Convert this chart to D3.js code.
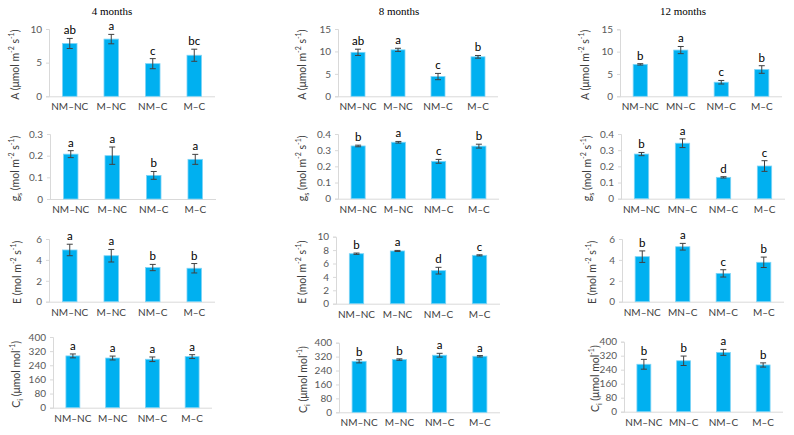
<!DOCTYPE html>
<html><head><meta charset="utf-8">
<script src="https://cdn.jsdelivr.net/npm/d3@7"></script>
<style>
html,body{margin:0;padding:0;background:#fff;}
svg{display:block;}
</style></head>
<body>
<svg id="chart" width="794" height="435"></svg>
<script>
// ---------- data ----------
const months = ["4 months", "8 months", "12 months"];
const categories = ["NM–NC", "M–NC", "NM–C", "M–C"];
const categories12 = ["NM–NC", "MN–C", "NM–C", "M–C"];

// Net photosynthesis A
const A_4 = [7.85, 8.5, 4.85, 6.1];
const A_4_err = [0.75, 0.7, 0.75, 0.9];
const A_4_sig = ["ab", "a", "c", "bc"];
const A_8 = [9.8, 10.35, 4.4, 8.8];
const A_8_err = [0.7, 0.35, 0.7, 0.3];
const A_8_sig = ["ab", "a", "c", "b"];
const A_12 = [7.15, 10.35, 3.15, 6.0];
const A_12_err = [0.15, 0.8, 0.4, 0.85];
const A_12_sig = ["b", "a", "c", "b"];

// Stomatal conductance gs
const gs_4 = [0.207, 0.2, 0.109, 0.183];
const gs_4_err = [0.016, 0.04, 0.018, 0.023];
const gs_4_sig = ["a", "a", "b", "a"];
const gs_8 = [0.326, 0.349, 0.231, 0.325];
const gs_8_err = [0.005, 0.005, 0.012, 0.012];
const gs_8_sig = ["b", "a", "c", "b"];
const gs_12 = [0.276, 0.343, 0.132, 0.202];
const gs_12_err = [0.01, 0.027, 0.004, 0.033];
const gs_12_sig = ["b", "a", "d", "c"];

// Transpiration E
const E_4 = [4.95, 4.4, 3.27, 3.2];
const E_4_err = [0.55, 0.6, 0.3, 0.45];
const E_4_sig = ["a", "a", "b", "b"];
const E_8 = [7.46, 7.87, 4.93, 7.22];
const E_8_err = [0.1, 0.08, 0.5, 0.08];
const E_8_sig = ["b", "a", "d", "c"];
const E_12 = [4.31, 5.26, 2.71, 3.77];
const E_12_err = [0.55, 0.32, 0.35, 0.5];
const E_12_sig = ["b", "a", "c", "b"];

// Intercellular CO2 Ci
const Ci_4 = [293, 281, 274, 289];
const Ci_4_err = [11, 11, 13, 11];
const Ci_4_sig = ["a", "a", "a", "a"];
const Ci_8 = [293, 303, 328, 322];
const Ci_8_err = [9, 4, 11, 4];
const Ci_8_sig = ["b", "b", "a", "a"];
const Ci_12 = [271, 291, 339, 267];
const Ci_12_err = [28, 27, 17, 12];
const Ci_12_sig = ["b", "b", "a", "b"];

// tick labels
const ticks_A_4 = [0, 5, 10];
const ticks_A_8 = [0, 5, 10, 15];
const ticks_A_12 = [0, 5, 10, 15];
const ticks_gs_4 = [0, 0.1, 0.2, 0.3];
const ticks_gs_8 = [0, 0.1, 0.2, 0.3, 0.4];
const ticks_gs_12 = [0, 0.1, 0.2, 0.3, 0.4];
const ticks_E_4 = [0, 2, 4, 6];
const ticks_E_8 = [0, 2, 4, 6, 8, 10];
const ticks_E_12 = [0, 2, 4, 6];
const ticks_Ci = [0, 80, 160, 240, 320, 400];

// ---------- layout (positions only) ----------
const layoutX = [
  [[49, 215], [338, 498], [620, 782]],
  [[50, 216], [338, 499], [621, 785]],
  [[49, 215], [336, 500], [622, 784]],
  [[53, 212], [339, 500], [624, 783]]
];
const layoutY = [
  [[29, 96.3], [29, 96.3], [29.3, 96.3]],
  [[134, 199], [134, 198.7], [134, 198.7]],
  [[239, 301.7], [236.7, 303.7], [239, 301.7]],
  [[337, 407.7], [342.7, 412.3], [341.7, 411.7]]
];
const titleX = [
  [15, 302, 585],
  [15, 302, 587],
  [17, 302, 592],
  [16, 303, 595]
];
const monthX = [112, 399, 683];

// ---------- assemble ----------
const rows = [
  {vals: [A_4, A_8, A_12], errs: [A_4_err, A_8_err, A_12_err], sig: [A_4_sig, A_8_sig, A_12_sig],
   ticks: [ticks_A_4, ticks_A_8, ticks_A_12], label: "A"},
  {vals: [gs_4, gs_8, gs_12], errs: [gs_4_err, gs_8_err, gs_12_err], sig: [gs_4_sig, gs_8_sig, gs_12_sig],
   ticks: [ticks_gs_4, ticks_gs_8, ticks_gs_12], label: "gs"},
  {vals: [E_4, E_8, E_12], errs: [E_4_err, E_8_err, E_12_err], sig: [E_4_sig, E_8_sig, E_12_sig],
   ticks: [ticks_E_4, ticks_E_8, ticks_E_12], label: "E"},
  {vals: [Ci_4, Ci_8, Ci_12], errs: [Ci_4_err, Ci_8_err, Ci_12_err], sig: [Ci_4_sig, Ci_8_sig, Ci_12_sig],
   ticks: [ticks_Ci, ticks_Ci, ticks_Ci], label: "Ci"}
];

const svg = d3.select("#chart");
const sans = "Lato, 'Open Sans', sans-serif";
const barFill = "#00B0F0", barStroke = "#7FD4F6", errColor = "#404040";
const axisColor = "#D9D9D9", tickText = "#595959";

svg.selectAll("text.month").data(months).enter().append("text")
  .attr("class", "month")
  .attr("x", (d, i) => monthX[i]).attr("y", 15)
  .attr("text-anchor", "middle")
  .attr("font-family", "'Liberation Serif', 'DejaVu Serif', serif")
  .attr("font-size", 11).attr("fill", "#000")
  .text(d => d);

function yTitle(g, kind, x, y) {
  const t = g.append("text")
    .attr("transform", `translate(${x},${y}) rotate(-90)`)
    .attr("text-anchor", "middle")
    .attr("dominant-baseline", "central")
    .attr("font-family", sans).attr("font-size", 10.5).attr("fill", "#404040");
  const sup = (s) => t.append("tspan").attr("font-size", 7).attr("baseline-shift", "super").text(s);
  const sub = (s) => t.append("tspan").attr("font-size", 7).attr("baseline-shift", "sub").text(s);
  const n = (s) => t.append("tspan").text(s);
  if (kind === "A") { n("A (μmol m"); sup("-2"); n(" s"); sup("-1"); n(")"); }
  else if (kind === "gs") { n("g"); sub("s"); n(" (mol m"); sup("-2"); n(" s"); sup("-1"); n(")"); }
  else if (kind === "E") { n("E (mol m"); sup("-2"); n(" s"); sup("-1"); n(")"); }
  else { n("C"); sub("i"); n(" (μmol mol"); sup("-1"); n(")"); }
}

rows.forEach((row, r) => {
  for (let c = 0; c < 3; c++) {
    const cats = c === 2 ? categories12 : categories;
    const vals = row.vals[c], errs = row.errs[c], sig = row.sig[c], ticks = row.ticks[c];
    const [x0, x1] = layoutX[r][c];
    const [yt, yb] = layoutY[r][c];
    const g = svg.append("g");

    const x = d3.scaleBand().domain(cats).range([x0, x1]).paddingInner(0.65).paddingOuter(0.325);
    const y = d3.scaleLinear().domain([0, d3.max(ticks)]).range([yb, yt]);

    const yAxis = d3.axisLeft(y).tickValues(ticks).tickSize(3).tickPadding(4)
      .tickFormat(d => String(d));
    const ga = g.append("g").attr("transform", `translate(${x0},0)`).call(yAxis);
    ga.select(".domain").attr("stroke", axisColor);
    ga.selectAll(".tick line").attr("stroke", axisColor);
    ga.selectAll(".tick text").attr("fill", tickText).attr("font-family", sans).attr("font-size", 10);

    const xAxis = d3.axisBottom(x).tickSize(0).tickPadding(7);
    const gx = g.append("g").attr("transform", `translate(0,${yb})`).call(xAxis);
    gx.select(".domain").attr("stroke", axisColor).attr("d", `M${x0},0.5H${x1}`);
    gx.selectAll(".tick text").attr("fill", "#404040").attr("font-family", sans).attr("font-size", 10);

    g.selectAll("rect.bar").data(vals).enter().append("rect")
      .attr("x", (d, i) => x(cats[i]))
      .attr("y", d => y(d))
      .attr("width", x.bandwidth())
      .attr("height", d => y(0) - y(d))
      .attr("fill", barFill).attr("stroke", barStroke).attr("stroke-width", 0.8);

    const cap = 3;
    vals.forEach((v, i) => {
      const cx = x(cats[i]) + x.bandwidth() / 2;
      const hi = y(v + errs[i]), lo = y(v - errs[i]);
      g.append("path")
        .attr("d", `M${cx},${hi}V${lo}M${cx - cap},${hi}H${cx + cap}M${cx - cap},${lo}H${cx + cap}`)
        .attr("stroke", errColor).attr("stroke-width", 1).attr("fill", "none");
      g.append("text")
        .attr("x", cx).attr("y", hi - 4)
        .attr("text-anchor", "middle")
        .attr("font-family", sans).attr("font-size", 11.5).attr("fill", "#000")
        .text(sig[i]);
    });

    yTitle(g, row.label, titleX[r][c], (yt + yb) / 2 + 2);
  }
});
</script>
</body></html>
